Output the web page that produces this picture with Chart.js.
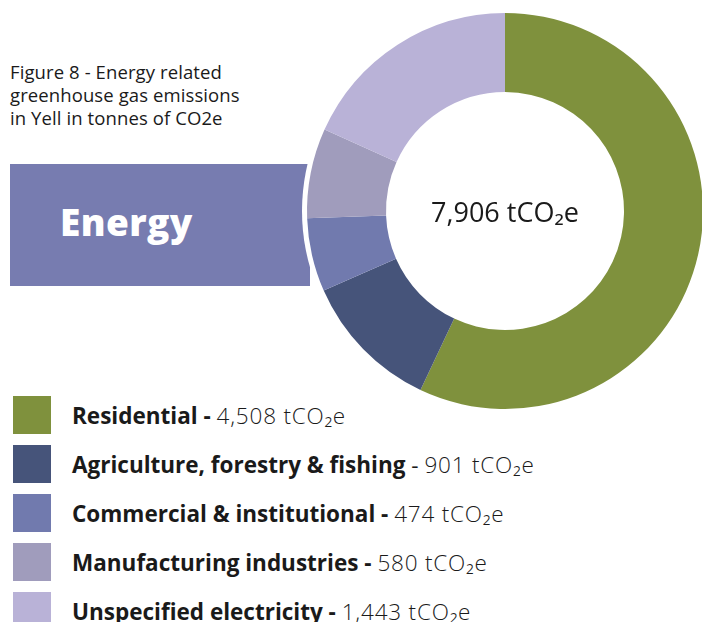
<!DOCTYPE html>
<html>
<head>
<meta charset="utf-8">
<script src="https://cdn.jsdelivr.net/npm/chart.js@4/dist/chart.umd.min.js"></script>
<style>
  html, body { margin: 0; padding: 0; background: #fff; }
  body { width: 702px; height: 622px; position: relative; overflow: hidden;
         font-family: "Open Sans", "DejaVu Sans", sans-serif; color: #1a1a1a; }
  #title { position: absolute; left: 10px; top: 60px; font-size: 18.5px; line-height: 23px; letter-spacing: 0.1px; }
  #band { position: absolute; left: 10px; top: 164px; width: 300px; height: 122px; background: #777cb0; }
  #band span { position: absolute; left: 50px; top: 32px; color: #fff; font-size: 37px; font-weight: 800; letter-spacing: 0.4px; }
  #wrap { position: absolute; left: 295px; top: 1px; width: 420px; height: 420px; z-index: 2; }
  #total { position: absolute; left: 295px; top: 1px; width: 420px; height: 420px; z-index: 3;
           display: flex; align-items: center; justify-content: center; font-size: 27px; }
  #legend { position: absolute; left: 13px; top: 396px; }
  .row { display: flex; align-items: center; height: 38px; margin-bottom: 11px; font-size: 22.5px; white-space: nowrap; }
  .sw { width: 38px; height: 38px; margin-right: 21px; flex: none; }
  .row b { font-weight: 700; }
  .row .v { font-weight: 300; letter-spacing: 0.8px; }
</style>
</head>
<body>
<div id="title">Figure 8 - Energy related<br>greenhouse gas emissions<br>in Yell in tonnes of CO2e</div>
<div id="band"><span>Energy</span></div>
<div id="wrap"><canvas id="c" width="420" height="420"></canvas></div>
<div id="total"></div>
<div id="legend"></div>
<script>
// Energy related emissions by sector, tCO2e
const sectors = ["Residential", "Agriculture, forestry & fishing", "Commercial & institutional", "Manufacturing industries", "Unspecified electricity"];
const emissions = [4508, 901, 474, 580, 1443];
const colours = ["#7f913d", "#46547a", "#717aae", "#a09cbc", "#b9b2d7"];
const boldDash = [true, false, true, true, true];

const fmt = n => n.toLocaleString("en-GB");
const total = emissions.reduce((a, b) => a + b, 0);
document.getElementById("total").textContent = fmt(total) + " tCO\u2082e";

// legend rows
const legend = document.getElementById("legend");
sectors.forEach((s, i) => {
  const row = document.createElement("div");
  row.className = "row";
  const sw = document.createElement("div");
  sw.className = "sw";
  sw.style.background = colours[i];
  const txt = document.createElement("div");
  txt.innerHTML = "<b>" + s + (boldDash[i] ? " -</b> " : "</b> - ") +
    "<span class='v'>" + fmt(emissions[i]) + " tCO\u2082e</span>";
  row.appendChild(sw);
  row.appendChild(txt);
  legend.appendChild(row);
});

// white halo behind the ring so it stands clear of the band
const halo = {
  id: "halo",
  beforeDatasetsDraw(chart) {
    const arc = chart.getDatasetMeta(0).data[0];
    if (!arc) return;
    const ctx = chart.ctx;
    ctx.save();
    ctx.beginPath();
    ctx.arc(arc.x, arc.y, arc.outerRadius + 5, 0, Math.PI * 2);
    ctx.fillStyle = "#fff";
    ctx.fill();
    ctx.restore();
  }
};

new Chart(document.getElementById("c"), {
  type: "doughnut",
  data: {
    labels: sectors,
    datasets: [{ data: emissions, backgroundColor: colours, borderWidth: 0, hoverOffset: 0 }]
  },
  options: {
    responsive: false,
    animation: false,
    cutout: 119,
    layout: { padding: 12 },
    plugins: { legend: { display: false }, tooltip: { enabled: false } }
  },
  plugins: [halo]
});
</script>
</body>
</html>
